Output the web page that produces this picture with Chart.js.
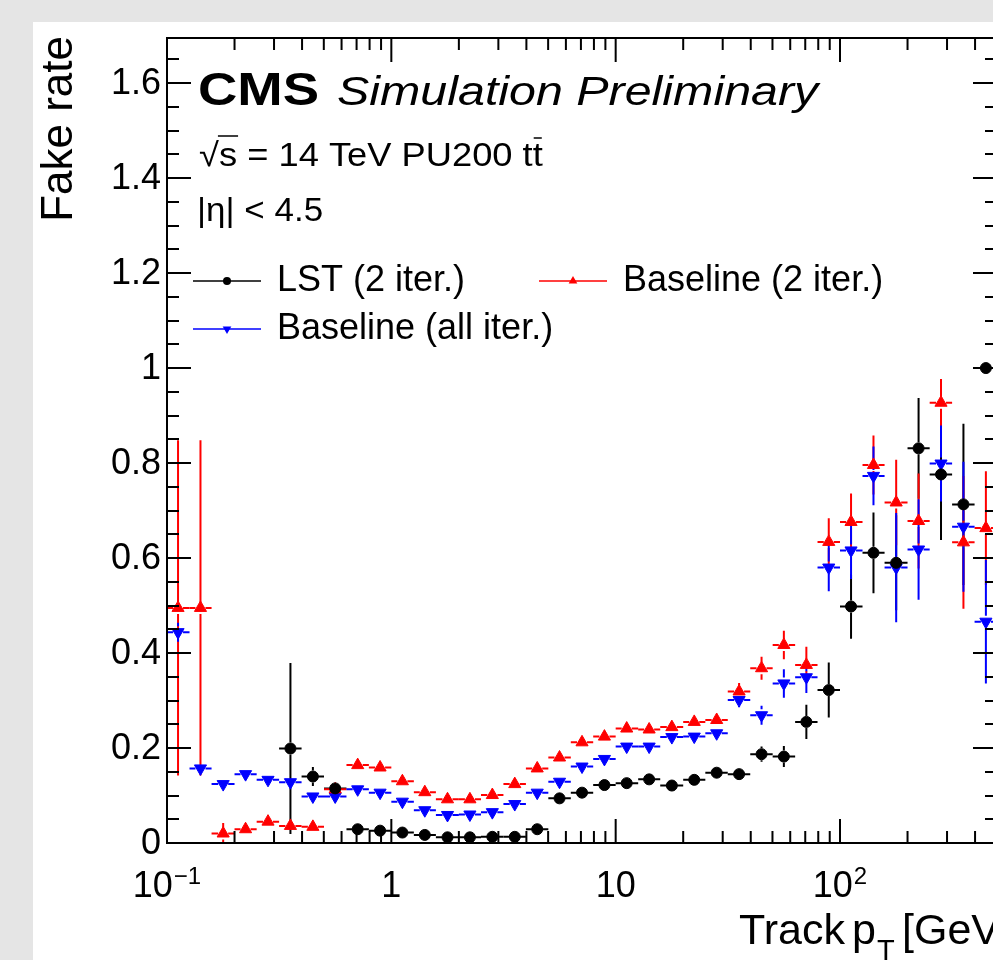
<!DOCTYPE html>
<html>
<head>
<meta charset="utf-8">
<title>Fake rate vs track pT</title>
<script src="https://cdn.jsdelivr.net/npm/chart.js@4.4.0/dist/chart.umd.min.js"></script>
<style>
  html, body { margin: 0; padding: 0; width: 993px; height: 960px; overflow: hidden; background: #e5e5e5; }
  #panel { position: absolute; left: 33px; top: 22px; width: 1100px; height: 1000px; background: #fff; }
  #wrap { position: absolute; left: 0; top: 0; width: 1040px; height: 960px; }
</style>
</head>
<body>
<div id="panel"></div>
<div id="wrap"><canvas id="chart"></canvas></div>
<script>
// Bins of track pT [GeV] (0.1 decade wide)
const binEdges = [0.1, 0.126, 0.158, 0.2, 0.251, 0.316, 0.398, 0.501, 0.631, 0.794,
  1, 1.26, 1.58, 2, 2.51, 3.16, 3.98, 5.01, 6.31, 7.94,
  10, 12.6, 15.8, 20, 25.1, 31.6, 39.8, 50.1, 63.1, 79.4,
  100, 126, 158, 200, 251, 316, 398, 501];
const binCenters = [0.112, 0.141, 0.178, 0.224, 0.282, 0.355, 0.447, 0.562, 0.708, 0.891,
  1.12, 1.41, 1.78, 2.24, 2.82, 3.55, 4.47, 5.62, 7.08, 8.91,
  11.2, 14.1, 17.8, 22.4, 28.2, 35.5, 44.7, 56.2, 70.8, 89.1,
  112, 141, 178, 224, 282, 355, 447];

// LST (2 iter.)
const lstRate = [null, null, null, null, null, 0.199, 0.140, 0.115, 0.029, 0.026,
  0.022, 0.017, 0.012, 0.012, 0.013, 0.013, 0.029, 0.094, 0.106, 0.122,
  0.126, 0.134, 0.121, 0.133, 0.148, 0.145, 0.187, 0.182, 0.255, 0.322,
  0.498, 0.611, 0.590, 0.831, 0.776, 0.713, 1.0];
const lstErr = [0, 0, 0, 0, 0, 0.18, 0.02, 0.012, 0.006, 0.006,
  0.006, 0.006, 0.006, 0.006, 0.006, 0.006, 0.006, 0.008, 0.008, 0.008,
  0.008, 0.008, 0.008, 0.008, 0.012, 0.012, 0.016, 0.022, 0.036, 0.058,
  0.068, 0.085, 0.1, 0.106, 0.138, 0.17, 0];

// Baseline (2 iter.)
const base2Rate = [0.495, 0.495, 0.020, 0.029, 0.045, 0.036, 0.034, 0.113, 0.164, 0.159,
  0.130, 0.107, 0.092, 0.092, 0.101, 0.124, 0.157, 0.180, 0.212, 0.224,
  0.241, 0.239, 0.244, 0.255, 0.259, 0.319, 0.368, 0.417, 0.375, 0.634,
  0.676, 0.796, 0.717, 0.678, 0.927, 0.633, 0.663];
const base2Err = [0.353, 0.353, 0.022, 0.01, 0.01, 0.008, 0.008, 0.006, 0.006, 0.006,
  0.006, 0.006, 0.006, 0.006, 0.006, 0.006, 0.006, 0.006, 0.006, 0.006,
  0.006, 0.006, 0.006, 0.006, 0.012, 0.018, 0.024, 0.03, 0.038, 0.05,
  0.06, 0.062, 0.09, 0.1, 0.05, 0.14, 0.12];

// Baseline (all iter.)
const baseAllRate = [0.444, 0.157, 0.124, 0.145, 0.133, 0.128, 0.098, 0.098, 0.113, 0.106,
  0.087, 0.069, 0.059, 0.060, 0.065, 0.082, 0.106, 0.129, 0.161, 0.177,
  0.203, 0.203, 0.223, 0.224, 0.231, 0.301, 0.269, 0.336, 0.349, 0.580,
  0.616, 0.773, 0.580, 0.618, 0.799, 0.666, 0.466];
const baseAllErr = [0.02, 0.006, 0.006, 0.006, 0.006, 0.006, 0.006, 0.006, 0.006, 0.006,
  0.006, 0.006, 0.006, 0.006, 0.006, 0.006, 0.006, 0.006, 0.006, 0.006,
  0.006, 0.006, 0.006, 0.006, 0.008, 0.015, 0.02, 0.03, 0.033, 0.05,
  0.06, 0.062, 0.115, 0.106, 0.08, 0.137, 0.13];

const seriesLabels = ['LST (2 iter.)', 'Baseline (2 iter.)', 'Baseline (all iter.)'];

// Axis ticks
const yTickValues = [0, 0.2, 0.4, 0.6, 0.8, 1, 1.2, 1.4, 1.6];
const yTickLabels = ['0', '0.2', '0.4', '0.6', '0.8', '1', '1.2', '1.4', '1.6'];
const xTickValues = [0.1, 1, 10, 100];
const xTickLabels = ['10^\u22121', '1', '10', '10^2'];
const xTitle = ['Track', 'p', 'T', '[GeV]'];
const yTitle = 'Fake rate';

const FONT = '"Liberation Sans", Arial, Helvetica, sans-serif';

function makePoints(rates, errs) {
  return rates.map((v, i) => ({
    x: binCenters[i], y: v, err: errs[i], lo: binEdges[i], hi: binEdges[i + 1]
  }));
}

// draw a text string, optionally stretched horizontally
function txt(ctx, s, x, y, font, sx, align) {
  ctx.save();
  ctx.font = font;
  ctx.textAlign = align || 'left';
  ctx.textBaseline = 'alphabetic';
  ctx.translate(x, y);
  ctx.scale(sx || 1, 1);
  ctx.fillText(s, 0, 0);
  ctx.restore();
}

function marker(ctx, style, x, y, r, color) {
  ctx.save();
  ctx.fillStyle = color;
  ctx.beginPath();
  if (style === 'circle') {
    ctx.arc(x, y, r, 0, Math.PI * 2);
  } else {
    const d = style === 'up' ? 1 : -1;
    ctx.moveTo(x, y - d * r);
    ctx.lineTo(x + r * 0.866, y + d * r * 0.5);
    ctx.lineTo(x - r * 0.866, y + d * r * 0.5);
    ctx.closePath();
  }
  ctx.fill();
  ctx.restore();
}

const rootStyle = {
  id: 'rootStyle',
  beforeDatasetsDraw(chart) {
    const { ctx, chartArea, scales: { x, y } } = chart;
    ctx.save();
    ctx.beginPath();
    ctx.rect(chartArea.left, chartArea.top, chartArea.width, chartArea.height);
    ctx.clip();
    ctx.lineWidth = 2;
    chart.data.datasets.forEach(ds => {
      ctx.strokeStyle = ds.borderColor;
      ds.data.forEach(p => {
        if (p.y == null) return;
        const cx = x.getPixelForValue(p.x), cy = y.getPixelForValue(p.y);
        const xl = x.getPixelForValue(p.lo), xh = x.getPixelForValue(p.hi);
        const yt = y.getPixelForValue(p.y + p.err);
        const yb = y.getPixelForValue(Math.max(0, p.y - p.err));
        const gx = 5, gy = 6;
        ctx.beginPath();
        if (cx - gx > xl) { ctx.moveTo(xl, cy); ctx.lineTo(cx - gx, cy); }
        if (xh > cx + gx) { ctx.moveTo(cx + gx, cy); ctx.lineTo(xh, cy); }
        if (cy - gy > yt) { ctx.moveTo(cx, yt); ctx.lineTo(cx, cy - gy); }
        if (yb > cy + gy) { ctx.moveTo(cx, cy + gy); ctx.lineTo(cx, yb); }
        ctx.stroke();
      });
    });
    ctx.restore();
  },
  afterDraw(chart) {
    const { ctx, chartArea: a, scales: { x, y } } = chart;
    ctx.save();
    ctx.strokeStyle = '#000';
    ctx.fillStyle = '#000';
    ctx.lineWidth = 2;
    ctx.strokeRect(a.left, a.top, a.right - a.left, a.bottom - a.top);

    // y ticks (both sides)
    ctx.beginPath();
    for (let v = 0; v <= y.max + 1e-9; v += 0.05) {
      const py = Math.round(y.getPixelForValue(v));
      const major = Math.abs(v / 0.2 - Math.round(v / 0.2)) < 1e-6;
      const len = major ? 24 : 12;
      ctx.moveTo(a.left, py); ctx.lineTo(a.left + len, py);
      ctx.moveTo(a.right, py); ctx.lineTo(a.right - len, py);
    }
    // x ticks (bottom and top)
    for (let dec = 0.1; dec < x.max; dec *= 10) {
      for (let m = 1; m <= 9; m++) {
        const v = dec * m;
        if (v > x.max) break;
        const px = x.getPixelForValue(v);
        const len = m === 1 ? 24 : 12;
        ctx.moveTo(px, a.bottom); ctx.lineTo(px, a.bottom - len);
        ctx.moveTo(px, a.top); ctx.lineTo(px, a.top + len);
      }
    }
    ctx.stroke();

    // y tick labels
    ctx.font = '36px ' + FONT;
    ctx.textAlign = 'right';
    ctx.textBaseline = 'middle';
    yTickValues.forEach((v, i) => {
      ctx.fillText(yTickLabels[i], a.left - 6, y.getPixelForValue(v) + 1);
    });

    // x tick labels with exponents
    xTickValues.forEach((v, i) => {
      const parts = xTickLabels[i].split('^');
      const px = x.getPixelForValue(v);
      ctx.font = '36px ' + FONT;
      const wb = ctx.measureText(parts[0]).width;
      let we = 0;
      if (parts[1]) { ctx.font = '24px ' + FONT; we = ctx.measureText(parts[1]).width + 1; }
      const x0 = px - (wb + we) / 2;
      txt(ctx, parts[0], x0, 897, '36px ' + FONT);
      if (parts[1]) txt(ctx, parts[1], x0 + wb + 1, 884, '24px ' + FONT);
    });

    // axis titles
    ctx.save();
    ctx.font = '44px ' + FONT;
    ctx.textAlign = 'right';
    ctx.textBaseline = 'alphabetic';
    ctx.translate(72, 36);
    ctx.rotate(-Math.PI / 2);
    ctx.fillText(yTitle, 0, 0);
    ctx.restore();

    txt(ctx, xTitle[0], 739, 944, '43px ' + FONT);
    txt(ctx, xTitle[1], 852, 944, '43px ' + FONT);
    txt(ctx, xTitle[2], 877, 960, '29px ' + FONT);
    txt(ctx, xTitle[3], 902, 944, '43px ' + FONT);

    // CMS label and conditions
    txt(ctx, 'CMS', 198, 105, 'bold 47px ' + FONT, 1.16);
    txt(ctx, 'Simulation Preliminary', 337, 105, 'italic 41px ' + FONT, 1.18);
    const line1 = '\u221As = 14 TeV PU200 tt';
    const sx1 = 1.1;
    txt(ctx, line1, 199, 166, '33px ' + FONT, sx1);
    ctx.font = '33px ' + FONT;
    const sqW = ctx.measureText('\u221A').width * sx1;
    const sW = ctx.measureText('s').width * sx1;
    const fullW = ctx.measureText(line1).width * sx1;
    const tW = ctx.measureText('t').width * sx1;
    ctx.lineWidth = 1.5;
    ctx.beginPath();
    ctx.moveTo(199 + sqW - 1, 136); ctx.lineTo(199 + sqW + sW + 1, 136);
    ctx.moveTo(199 + fullW - tW + 1, 138); ctx.lineTo(199 + fullW - 1, 138);
    ctx.stroke();
    txt(ctx, '|\u03B7| < 4.5', 197, 221, '33px ' + FONT, 1.06);

    // legend
    const legend = [
      { ds: 0, x: 193, y: 281, style: 'circle', r: 4 },
      { ds: 1, x: 539, y: 281, style: 'up', r: 5 },
      { ds: 2, x: 193, y: 329, style: 'down', r: 5 }
    ];
    legend.forEach(e => {
      const ds = chart.data.datasets[e.ds];
      ctx.strokeStyle = ds.borderColor;
      ctx.lineWidth = 1.5;
      ctx.beginPath();
      ctx.moveTo(e.x, e.y); ctx.lineTo(e.x + 68, e.y);
      ctx.stroke();
      marker(ctx, e.style, e.x + 34, e.y, e.r, ds.borderColor);
      ctx.fillStyle = '#000';
      txt(ctx, ds.label, e.x + 84, e.y + 10, '36px ' + FONT);
    });
    ctx.restore();
  }
};

new Chart(document.getElementById('chart'), {
  type: 'scatter',
  data: {
    datasets: [
      {
        label: seriesLabels[0],
        data: makePoints(lstRate, lstErr),
        borderColor: '#000000',
        backgroundColor: '#000000',
        pointStyle: 'circle',
        pointRadius: 5.5,
        pointBorderWidth: 1
      },
      {
        label: seriesLabels[1],
        data: makePoints(base2Rate, base2Err),
        borderColor: '#ff0000',
        backgroundColor: '#ff0000',
        pointStyle: 'triangle',
        pointRadius: 7,
        pointBorderWidth: 1
      },
      {
        label: seriesLabels[2],
        data: makePoints(baseAllRate, baseAllErr),
        borderColor: '#0000ff',
        backgroundColor: '#0000ff',
        pointStyle: 'triangle',
        pointRotation: 180,
        pointRadius: 7,
        pointBorderWidth: 1
      }
    ]
  },
  options: {
    responsive: true,
    maintainAspectRatio: false,
    animation: false,
    layout: { padding: { left: 167, right: 43, top: 38, bottom: 117 } },
    plugins: {
      legend: { display: false },
      tooltip: { enabled: false }
    },
    scales: {
      x: { type: 'logarithmic', min: 0.1, max: 501, display: false },
      y: { type: 'linear', min: 0, max: 1.695, display: false }
    }
  },
  plugins: [rootStyle]
});
</script>
</body>
</html>
